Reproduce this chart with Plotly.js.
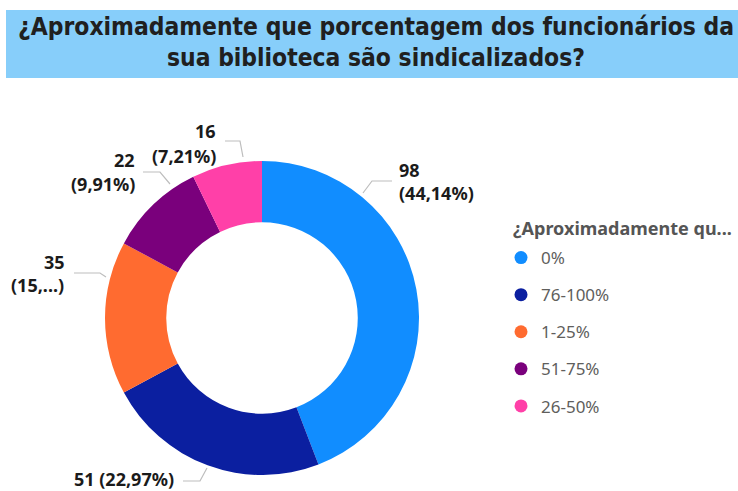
<!DOCTYPE html>
<html>
<head>
<meta charset="utf-8">
<script src="https://cdn.plot.ly/plotly-3.0.1.min.js"></script>
<style>html,body{margin:0;padding:0;background:#fff;}#chart{width:738px;height:491px;}</style>
</head>
<body>
<div id="chart"></div>
<script>
// ---- data ----
const categories = ["0%", "76-100%", "1-25%", "51-75%", "26-50%"];
const counts = [98, 51, 35, 22, 16];
const colors = ["#118DFF", "#0B1FA0", "#FF6B30", "#7A007C", "#FF40A8"];
const truncatePct = [false, false, true, false, false];
const legendTitle = "¿Aproximadamente qu...";
const chartTitle = "¿Aproximadamente que porcentagem dos funcionários da<br>sua biblioteca são sindicalizados?";

// ---- layout helpers (pixels -> paper) ----
const W = 738, H = 491;
const px = x => x / W;
const py = y => 1 - y / H;

const total = counts.reduce((a, b) => a + b, 0);
const pctText = counts.map((v, i) => {
  const s = (v / total * 100).toFixed(2).replace('.', ',');
  return truncatePct[i] ? '(' + s.split(',')[0] + ',...)' : '(' + s + '%)';
});

// label placement (styling): text lines [x, y, anchor] and leader polyline
const labelPlace = [
  {lines: [[397, 170, 'left'], [397, 193, 'left']], leader: [[363,193],[372,181],[392,181]]},
  {single: [176, 479, 'right'], leader: [[207,468],[200,481],[183,481]]},
  {lines: [[67, 262, 'right'], [66, 285, 'right']], leader: [[106,277],[100,273],[74,273]]},
  {lines: [[137, 160, 'right'], [137, 184, 'right']], leader: [[170,184],[160,172],[143,172]]},
  {lines: [[218, 131, 'right'], [218, 156, 'right']], leader: [[243,157],[240,141],[225,141]]}
];

const labelFont = {family: "Noto Sans, Open Sans, sans-serif", size: 18, color: "#1b1b1b", weight: 700};
const annotations = [];
const shapes = [{
  type: 'rect', xref: 'paper', yref: 'paper', layer: 'below',
  x0: px(6), x1: 1, y0: py(78), y1: py(10),
  fillcolor: '#87CEFA', line: {width: 0}
}];

labelPlace.forEach((p, i) => {
  if (p.single) {
    annotations.push({xref: 'paper', yref: 'paper', x: px(p.single[0]), y: py(p.single[1]),
      xanchor: p.single[2], yanchor: 'middle', showarrow: false,
      text: counts[i] + ' ' + pctText[i], font: labelFont});
  } else {
    const t = [String(counts[i]), pctText[i]];
    p.lines.forEach((l, k) => {
      annotations.push({xref: 'paper', yref: 'paper', x: px(l[0]), y: py(l[1]),
        xanchor: l[2], yanchor: 'middle', showarrow: false, text: t[k], font: labelFont});
    });
  }
  const path = p.leader.map((pt, k) => (k ? 'L' : 'M') + px(pt[0]).toFixed(5) + ',' + py(pt[1]).toFixed(5)).join(' ');
  shapes.push({type: 'path', xref: 'paper', yref: 'paper', path: path,
    line: {color: '#BDBDBD', width: 1.2}});
});

// legend title as text (placed like the reference)
annotations.push({xref: 'paper', yref: 'paper', x: px(511), y: py(228), xanchor: 'left', yanchor: 'middle',
  showarrow: false, text: legendTitle,
  font: {family: "Noto Sans, Open Sans, sans-serif", size: 18, color: '#555555', weight: 700}});

const traces = [{
  type: 'pie',
  labels: categories,
  values: counts,
  marker: {colors: colors, line: {width: 0}},
  hole: 0.61,
  sort: false,
  direction: 'clockwise',
  rotation: 0,
  textinfo: 'none',
  hoverinfo: 'label+value+percent',
  showlegend: false,
  domain: {x: [px(262 - 157), px(262 + 157)], y: [py(318 + 157), py(318 - 157)]}
}];

categories.forEach((c, i) => {
  traces.push({
    type: 'scatter', mode: 'markers', x: [null], y: [null],
    name: c, legendgroup: 'g' + i,
    marker: {color: colors[i], size: 13, symbol: 'circle'},
    hoverinfo: 'skip'
  });
});

const layout = {
  width: W, height: H,
  margin: {l: 0, r: 0, t: 0, b: 0},
  paper_bgcolor: '#ffffff', plot_bgcolor: '#ffffff',
  title: {
    text: chartTitle,
    x: px(376), xanchor: 'center', y: py(34.5), yanchor: 'middle', yref: 'container', xref: 'container',
    font: {family: "DejaVu Sans Condensed, DejaVu Sans, sans-serif", size: 24.4, color: '#202020', weight: 700}
  },
  xaxis: {visible: false}, yaxis: {visible: false},
  showlegend: true,
  legend: {
    x: px(501), xanchor: 'left', y: py(240), yanchor: 'top',
    bgcolor: 'rgba(0,0,0,0)',
    font: {family: "Noto Sans, Open Sans, sans-serif", size: 17, color: '#605E5C'},
    tracegroupgap: 12,
    itemwidth: 30,
    traceorder: 'grouped'
  },
  annotations: annotations,
  shapes: shapes
};

Plotly.newPlot('chart', traces, layout, {displayModeBar: false, staticPlot: true});
</script>
</body>
</html>
